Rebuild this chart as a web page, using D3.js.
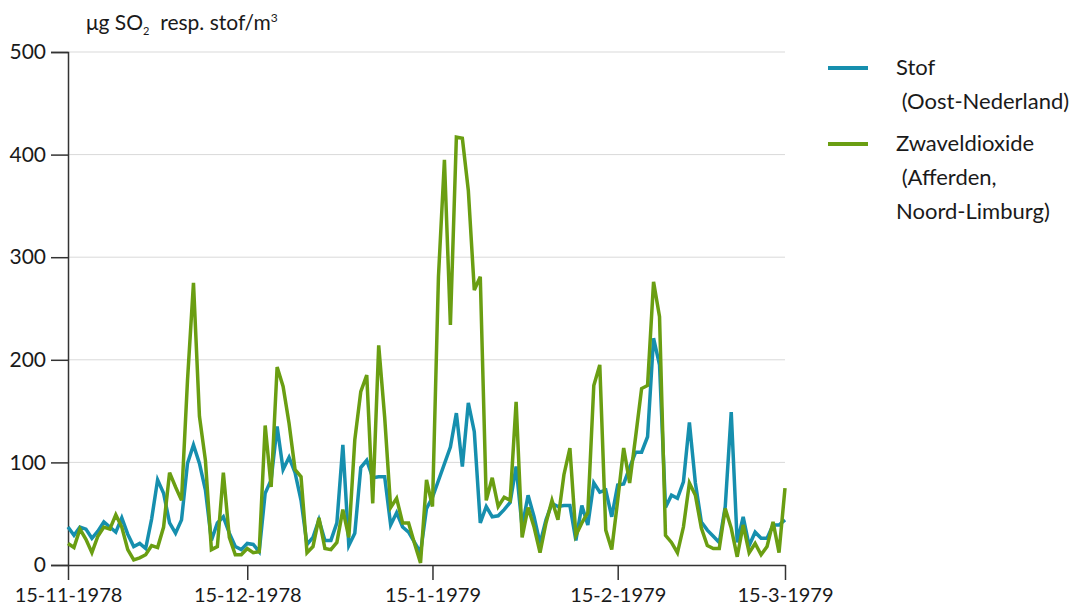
<!DOCTYPE html>
<html>
<head>
<meta charset="utf-8">
<script src="https://cdn.jsdelivr.net/npm/d3@7/dist/d3.min.js"></script>
<style>
body { margin: 0; background: #fff; }
svg text { font-family: Lato, "Open Sans", sans-serif; fill: #1a1a1a; }
</style>
</head>
<body>
<svg width="1083" height="609"></svg>
<script>
// daily measurements, 15-11-1978 .. 15-3-1979
var startDay = new Date(1978, 10, 15);
var endDay = new Date(1979, 2, 15);

var tickDates = [new Date(1978, 10, 15), new Date(1978, 11, 15), new Date(1979, 0, 15), new Date(1979, 1, 15), new Date(1979, 2, 15)];
var tickLabels = ["15-11-1978", "15-12-1978", "15-1-1979", "15-2-1979", "15-3-1979"];
var yTicks = [0, 100, 200, 300, 400, 500];

var legendLines = [["Stof", " (Oost-Nederland)"], ["Zwaveldioxide", " (Afferden,", "Noord-Limburg)"]];

// stof (Oost-Nederland), null = no measurement
var stof = [37, 29, 37, 35, 26, 33, 42, 37, 32, 46,
	30, 18, 21, 16, 45, 83, 70, 41, 31, 44,
	99, 117, 99, 73, 24, 41, 47, 31, 18, 15,
	21, 20, 13, 70, 83, 135, 93, 105, 90, 63,
	20, 27, 44, 24, 24, 41, 117, 19, 31, 95,
	102, 85, 86, 86, 39, 51, 37, 32, 22, 12,
	55, 66, null, null, 115, 148, 96, 158, 130, 41,
	57, 47, 48, 54, 61, 96, 37, 68, 47, 21,
	44, 60, 57, 58, 58, 24, 58, 39, 80, 71,
	73, 47, 78, 79, 95, 110, 110, 125, 221, 195,
	56, 68, 65, 81, 139, 80, 42, 34, 28, 22,
	57, 149, 22, 47, 19, 32, 26, 26, 39, 39,
	44];

// zwaveldioxide (Afferden, Noord-Limburg)
var zwavel = [21, 17, 35, 25, 12, 28, 37, 35, 49, 37,
	15, 5, 7, 10, 19, 17, 37, 90, 76, 63,
	180, 275, 145, 102, 15, 18, 90, 27, 10, 10,
	16, 12, 13, 136, 76, 193, 174, 138, 93, 86,
	12, 18, 46, 16, 15, 22, 54, 27, 122, 169,
	185, 60, 214, 144, 56, 65, 41, 41, 21, 2,
	83, 57, 281, 395, 234, 417, 416, 365, 268, 281,
	63, 85, 57, 66, 63, 159, 27, 56, 37, 12,
	41, 63, 44, 88, 114, 29, 41, 51, 175, 195,
	34, 15, 63, 114, 80, 125, 172, 175, 276, 242,
	29, 22, 12, 37, 80, 68, 36, 19, 16, 16,
	55, 36, 8, 39, 12, 21, 10, 18, 42, 12,
	75];

var colors = ["#168fae", "#6a9e12"];

var svg = d3.select("svg");
var days = d3.timeDay.range(startDay, d3.timeDay.offset(endDay, 1));

var x = d3.scaleTime().domain([startDay, endDay]).range([68, 785]);
var y = d3.scaleLinear().domain([0, 500]).range([565, 52]);

// grid
svg.append("g")
	.selectAll("line")
	.data(yTicks.slice(1))
	.join("line")
	.attr("x1", 68).attr("x2", 785)
	.attr("y1", d => y(d)).attr("y2", d => y(d))
	.attr("stroke", "#d9d9d9").attr("stroke-width", 1);

// y axis
var yAxis = svg.append("g")
	.attr("transform", "translate(68,0)")
	.call(d3.axisLeft(y).tickValues(yTicks).tickSize(17).tickPadding(5));
yAxis.select(".domain").attr("stroke", "#333").attr("stroke-width", 1.5);
yAxis.selectAll(".tick line").attr("stroke", "#333").attr("stroke-width", 1.5);
yAxis.selectAll(".tick text").style("font-size", "21px").attr("fill", "#1a1a1a");

// x axis
var xAxis = svg.append("g")
	.attr("transform", "translate(0,565)")
	.call(d3.axisBottom(x).tickValues(tickDates).tickFormat((d, i) => tickLabels[i]).tickSize(15).tickPadding(8).tickSizeOuter(0));
xAxis.select(".domain").attr("stroke", "#333").attr("stroke-width", 1.5);
xAxis.selectAll(".tick line").attr("stroke", "#333").attr("stroke-width", 1.5);
xAxis.selectAll(".tick text").style("font-size", "20px").attr("fill", "#1a1a1a");

var line = d3.line()
	.x(d => x(d.date))
	.y(d => y(d.v));

[stof, zwavel].forEach(function(values, k) {
	var pts = days.map((d, i) => ({date: d, v: values[i]})).filter(d => d.v != null);
	svg.append("path")
		.datum(pts)
		.attr("fill", "none")
		.attr("stroke", colors[k])
		.attr("stroke-width", 3.5)
		.attr("d", line);
});

// unit label
var title = svg.append("text").attr("x", 86).attr("y", 30).style("font-size", "21px");
title.append("tspan").text("μg SO");
title.append("tspan").attr("dy", 5).style("font-size", "11px").text("2");
title.append("tspan").attr("dy", -5).text("\u00a0 resp. stof/m");
title.append("tspan").attr("dy", -8).style("font-size", "12px").text("3");

// legend
var legendY = [68, 144];
legendLines.forEach(function(rows, k) {
	svg.append("line")
		.attr("x1", 828).attr("x2", 868)
		.attr("y1", legendY[k]).attr("y2", legendY[k])
		.attr("stroke", colors[k]).attr("stroke-width", 4);
	rows.forEach(function(r, j) {
		svg.append("text")
			.attr("x", 896)
			.attr("y", legendY[k] + 7 + j * 34)
			.style("font-size", "22px")
			.style("white-space", "pre")
			.text(r);
	});
});
</script>
</body>
</html>
